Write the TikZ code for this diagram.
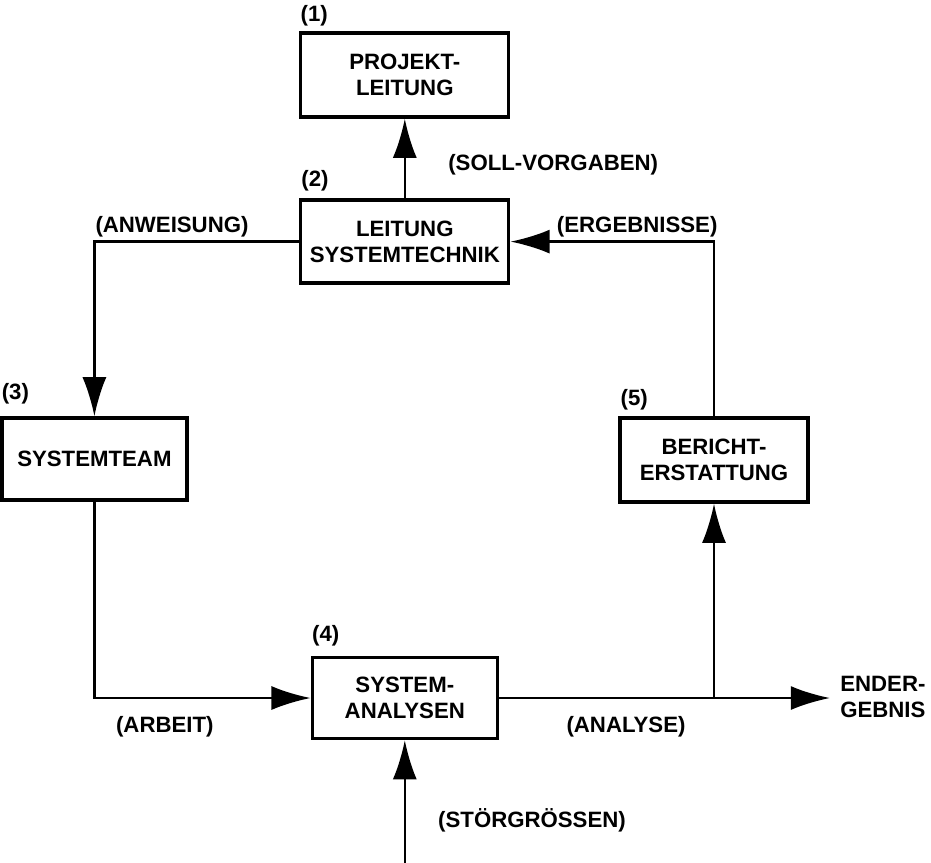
\documentclass[tikz,border=0pt]{standalone}
\usepackage{fontspec}
\setmainfont{Liberation Sans}
\usepackage{tikz}
\usetikzlibrary{positioning,calc,arrows.meta}

\begin{document}
\begin{tikzpicture}[
		font=\fontsize{15.8}{18.5}\selectfont\bfseries,
		box/.style={draw, line width=2.3pt, align=center, inner sep=0pt},
		num/.style={inner sep=0pt},
		lbl/.style={inner sep=0pt},
		arr/.style={-{Latex[length=0.98cm,width=0.6cm]}, line width=1.8pt},
		line/.style={line width=1.8pt}
	]
		\useasboundingbox (0,0) rectangle (23.275,-21.55);
		
		% boxes
		\node[box, minimum width=5.2cm, minimum height=2.1cm] (pl) at (10.12,-1.875) {PROJEKT-\\LEITUNG};
		\node[box, minimum width=5.2cm, minimum height=2.075cm] (ls) at (10.12,-6.04) {LEITUNG\\SYSTEMTECHNIK};
		\node[box, minimum width=4.625cm, minimum height=2.05cm] (st) at (2.36,-11.475) {SYSTEMTEAM};
		\node[box, minimum width=4.7cm, minimum height=2.1cm] (be) at (17.85,-11.5) {BERICHT-\\ERSTATTUNG};
		\node[box, minimum width=4.625cm, minimum height=2.025cm] (sa) at (10.12,-17.45) {SYSTEM-\\ANALYSEN};
		
		% numbers
		\node[num, above right=0.13cm and 0.03cm of pl.north west] (n1) {(1)};
		\node[num, above right=0.17cm and 0.05cm of ls.north west] (n2) {(2)};
		\node[num, above right=0.3cm and 0.03cm of st.north west] (n3) {(3)};
		\node[num, above right=0.25cm and 0.03cm of sa.north west] (n4) {(4)};
		\node[num, above right=0.15cm and 0.05cm of be.north west] (n5) {(5)};
		
		% flow labels
		\node[lbl] (soll) at (13.83,-4.12) {(SOLL-VORGABEN)};
		\node[lbl] (anw) at (4.3,-5.68) {(ANWEISUNG)};
		\node[lbl] (erg) at (15.93,-5.68) {(ERGEBNISSE)};
		\node[lbl] (arb) at (4.12,-18.18) {(ARBEIT)};
		\node[lbl] (ana) at (15.65,-18.18) {(ANALYSE)};
		\node[lbl] (stoer) at (13.3,-20.5) {(STÖRGRÖSSEN)};
		\node[lbl, anchor=west, align=left] (end) at (21.0,-17.42) {ENDER-\\GEBNIS};
		
		\coordinate (out) at (20.75,-17.45);
		\coordinate (split) at (sa.east -| be.south);
		\coordinate (in) at (10.12,-21.6);
		
		% connectors
		\draw[arr] (ls) -- (pl);
		\draw[arr] (ls.west) -| (st.north);
		\draw[arr] (st.south) |- (sa.west);
		\draw[arr] (sa.east) -- (out);
		\draw[arr] (split) -- (be.south);
		\draw[arr] (be.north) |- (ls.east);
		\draw[arr] (in) -- (sa.south);
	\end{tikzpicture}
\end{document}
